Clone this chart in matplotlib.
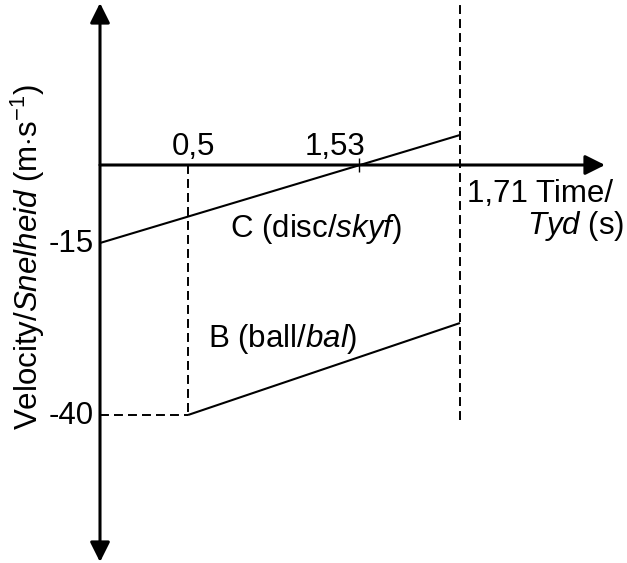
import numpy as np
import matplotlib
matplotlib.use("Agg")
import matplotlib.pyplot as plt

plt.rcParams['font.family'] = ['Liberation Sans', 'DejaVu Sans']
plt.rcParams['mathtext.fontset'] = 'custom'
plt.rcParams['mathtext.rm'] = 'Liberation Sans'
plt.rcParams['mathtext.it'] = 'Liberation Sans:italic'
plt.rcParams['mathtext.default'] = 'rm'

# ---- data (schematic v-t graph) ----
t_disc = [0.0, 1.71]
v_disc = [-15.0, 1.76]
t_ball = [0.5, 1.71]
v_ball = [-40.0, -28.14]
t_marks = [0.5, 1.53, 1.71]
t_labels = ["0,5", "1,53", "1,71"]
v_marks = [-15, -40]
v_labels = ["-15", "-40"]

# ---- schematic (not-to-scale) axis mappings ----
W, H = 627, 563
x_knots = np.array([0.0, 0.5, 1.53, 1.71])
x_pix = np.array([100.0, 188.0, 359.0, 460.0])
y_knots = np.array([-40.0, -28.14, -15.0, 0.0, 1.76])
y_pix = H - np.array([415.0, 323.0, 243.0, 165.0, 135.0])


def piecewise(xk, yk):
    s0 = (yk[1] - yk[0]) / (xk[1] - xk[0])
    s1 = (yk[-1] - yk[-2]) / (xk[-1] - xk[-2])

    def fwd(v):
        v = np.asarray(v, dtype=float)
        out = np.interp(v, xk, yk)
        out = np.where(v < xk[0], yk[0] + (v - xk[0]) * s0, out)
        out = np.where(v > xk[-1], yk[-1] + (v - xk[-1]) * s1, out)
        return out

    def inv(p):
        p = np.asarray(p, dtype=float)
        out = np.interp(p, yk, xk)
        out = np.where(p < yk[0], xk[0] + (p - yk[0]) / s0, out)
        out = np.where(p > yk[-1], xk[-1] + (p - yk[-1]) / s1, out)
        return out
    return fwd, inv


fx, ix = piecewise(x_knots, x_pix)
fy, iy = piecewise(y_knots, y_pix)

fig = plt.figure(figsize=(W / 100, H / 100), dpi=100)
ax = fig.add_axes([0, 0, 1, 1])
ax.set_xscale('function', functions=(fx, ix))
ax.set_yscale('function', functions=(fy, iy))
ax.set_xlim(float(ix(0.0)), float(ix(W)))
ax.set_ylim(float(iy(0.0)), float(iy(H)))
ax.axis('off')

px = 72 / 100  # points per pixel
FS = 22.5

# axes with arrows
ax.annotate('', xy=(0, 1 - 3 / H), xytext=(0, 1 - 562 / H),
            xycoords=ax.get_xaxis_transform(), textcoords=ax.get_xaxis_transform(),
            arrowprops=dict(arrowstyle='<|-|>,head_length=0.6,head_width=0.3',
                            mutation_scale=20, lw=2.2, color='black',
                            shrinkA=0, shrinkB=0))
ax.annotate('', xy=(605 / W, 0), xytext=(100 / W, 0),
            xycoords=ax.get_yaxis_transform(), textcoords=ax.get_yaxis_transform(),
            arrowprops=dict(arrowstyle='-|>,head_length=0.6,head_width=0.3',
                            mutation_scale=20, lw=2.2, color='black',
                            shrinkA=0, shrinkB=0))

# dashed guide lines
dash = (0, (4.6, 2.6))
ax.plot([t_ball[0], t_ball[0]], [0, v_ball[0]], color='black', lw=1.4, ls=dash)
ax.plot([0, t_ball[0]], [v_ball[0], v_ball[0]], color='black', lw=1.4, ls=dash)
ax.axvline(t_marks[2], ymin=1 - 420 / H, ymax=1, color='black', lw=1.4, ls=dash)

# graphs
ax.plot(t_disc, v_disc, color='black', lw=1.5, solid_capstyle='butt')
ax.plot(t_ball, v_ball, color='black', lw=1.5, solid_capstyle='butt')

# small tick at the zero crossing
ax.plot([t_marks[1]], [0], marker='|', markersize=14 * px, mew=1.0, color='black')

# time labels
ax.annotate(t_labels[0], xy=(t_marks[0], 0), xytext=(5 * px, 10 * px),
            textcoords='offset points', ha='center', va='baseline', fontsize=FS)
ax.annotate(t_labels[1], xy=(t_marks[1], 0), xytext=(6 * px, 10 * px),
            textcoords='offset points', ha='right', va='baseline', fontsize=FS)
ax.annotate(t_labels[2] + " Time/", xy=(t_marks[2], 0), xytext=(7 * px, -37 * px),
            textcoords='offset points', ha='left', va='baseline', fontsize=FS)
ax.text(624 / W, 1 - 234 / H, r"$\mathit{Tyd}$ (s)", transform=ax.transAxes,
        ha='right', va='baseline', fontsize=FS)

# velocity labels
for v, lab in zip(v_marks, v_labels):
    ax.annotate(lab, xy=(0, v), xytext=(-6 * px, -1 * px), textcoords='offset points',
                ha='right', va='center', fontsize=FS)

# series labels
ax.text(230 / W, 1 - 237 / H, r"C (disc/$\mathit{skyf}$)", transform=ax.transAxes,
        ha='left', va='baseline', fontsize=FS)
ax.text(208 / W, 1 - 347 / H, r"B (ball/$\mathit{bal}$)", transform=ax.transAxes,
        ha='left', va='baseline', fontsize=FS)

# y-axis label
ax.text(28 / W, 1 - 257 / H, r"Velocity/$\mathit{Snelheid}$ (m$\cdot$s$^{-1}$)",
        transform=ax.transAxes, rotation=90, ha='center', va='center', fontsize=FS)

fig.savefig('out.png', dpi=100)
